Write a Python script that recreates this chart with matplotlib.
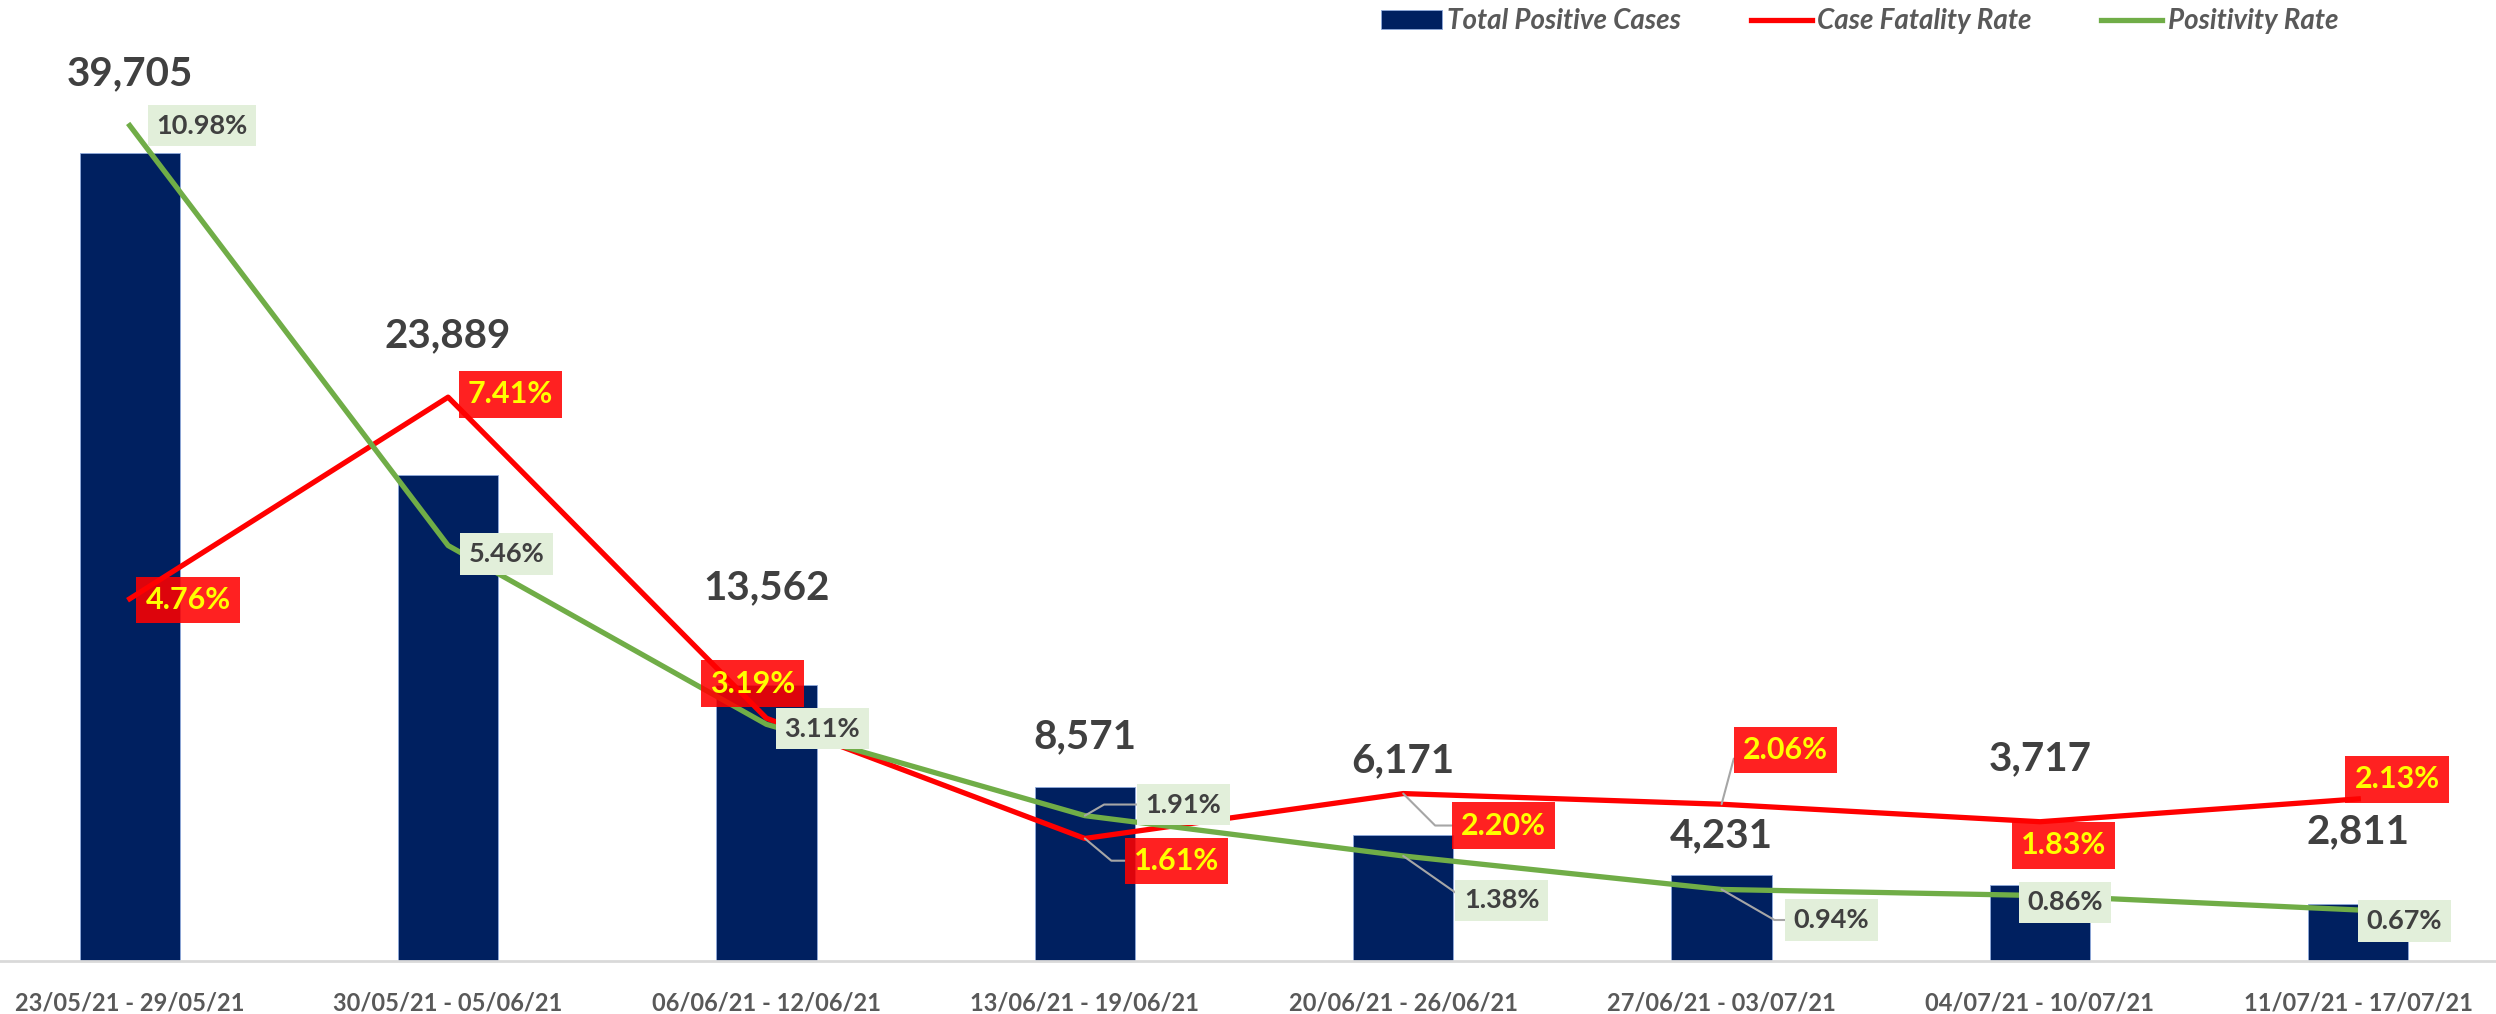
import numpy as np
import matplotlib
matplotlib.use("Agg")
import matplotlib.pyplot as plt

# data
weeks = ["23/05/21 - 29/05/21", "30/05/21 - 05/06/21", "06/06/21 - 12/06/21",
         "13/06/21 - 19/06/21", "20/06/21 - 26/06/21", "27/06/21 - 03/07/21",
         "04/07/21 - 10/07/21", "11/07/21 - 17/07/21"]
total_positive = [39705, 23889, 13562, 8571, 6171, 4231, 3717, 2811]
case_fatality = [4.76, 7.41, 3.19, 1.61, 2.20, 2.06, 1.83, 2.13]
positivity = [10.98, 5.46, 3.11, 1.91, 1.38, 0.94, 0.86, 0.67]

# label placement (offsets in points), leader line angle or None
count_offsets = [57, 100, 70, 36, 54, 28, 91, 52]
cfr_offsets = [(42, -1), (45, 2), (-10, 25), (66, -16), (72, -23), (46, 39), (17, -17), (28, 14)]
pos_offsets = [(52, 0), (42, -6), (40, -3), (71, 8), (71, -32), (79, -22), (18, -5), (33, -8)]
cfr_leader = [None, None, None, -40, -45, 75, None, None]
pos_leader = [None, None, None, 30, -35, -30, None, None]

NAVY = "#002060"
RED = "#FF0000"
GREEN = "#70AD47"
GREY_TXT = "#595959"
DARK_TXT = "#404040"


def leader(angle):
    if angle is None:
        return None
    return dict(arrowstyle="-", color="#A6A6A6", lw=1.5, shrinkA=0, shrinkB=0,
                connectionstyle=f"angle,angleA=0,angleB={angle},rad=0")


plt.rcParams['font.family'] = ['Lato', 'DejaVu Sans']

fig = plt.figure(figsize=(24.96, 10.14), dpi=100)
ax = fig.add_axes([0, 0.0523, 1, 0.9477])
x = np.arange(len(weeks))

bars = ax.bar(x, total_positive, width=0.315, color=NAVY, edgecolor="#8FAADC",
              linewidth=0.6, label="Total Positive Cases", zorder=2)
ax.set_xlim(-0.4075, 7.4325)
ax.set_ylim(0, 47223)
ax.set_xticks(x)
ax.set_xticklabels(weeks, fontsize=17, fontweight="bold", color=GREY_TXT)
ax.tick_params(axis="x", length=0, pad=22)
ax.set_yticks([])
for s in ["top", "left", "right"]:
    ax.spines[s].set_visible(False)
ax.spines["bottom"].set_color("#D9D9D9")
ax.spines["bottom"].set_linewidth(2)

for i, v in enumerate(total_positive):
    ax.annotate(f"{v:,}", (x[i], v), xytext=(0, count_offsets[i]), textcoords="offset points",
                ha="center", va="center", fontsize=29, fontweight="bold", color=DARK_TXT)

ax2 = ax.twinx()
ax2.set_ylim(0, 12.63)
ax2.set_yticks([])
for s in ["top", "left", "right", "bottom"]:
    ax2.spines[s].set_visible(False)

l1, = ax2.plot(x, case_fatality, color=RED, linewidth=3.8, label="Case Fatality Rate",
               solid_joinstyle="round", zorder=3)
l2, = ax2.plot(x, positivity, color=GREEN, linewidth=3.8, label="Positivity Rate",
               solid_joinstyle="round", zorder=4)

for i, v in enumerate(case_fatality):
    ax2.annotate(f"{v:.2f}%", (x[i], v), xytext=cfr_offsets[i], textcoords="offset points",
                 ha="center", va="center", fontsize=22, fontweight="bold", color="#FFFF00",
                 bbox=dict(boxstyle="square,pad=0.3", fc=RED, ec="none", alpha=0.87),
                 arrowprops=leader(cfr_leader[i]), zorder=6)

for i, v in enumerate(positivity):
    ax2.annotate(f"{v:.2f}%", (x[i], v), xytext=pos_offsets[i], textcoords="offset points",
                 ha="center", va="center", fontsize=19.5, fontweight="bold", color=DARK_TXT,
                 bbox=dict(boxstyle="square,pad=0.32", fc="#E2EFDA", ec="none"),
                 arrowprops=leader(pos_leader[i]), zorder=5)

leg = fig.legend([bars, l1, l2], ["Total Positive Cases", "Case Fatality Rate", "Positivity Rate"],
                 loc="center", bbox_to_anchor=(0.745, 0.979), ncol=3, frameon=False,
                 prop=dict(size=20, weight="bold", style="italic"), handlelength=2.2,
                 handletextpad=0.2, columnspacing=2.5)
for t in leg.get_texts():
    t.set_color(GREY_TXT)

fig.savefig("out.png", dpi=100)
